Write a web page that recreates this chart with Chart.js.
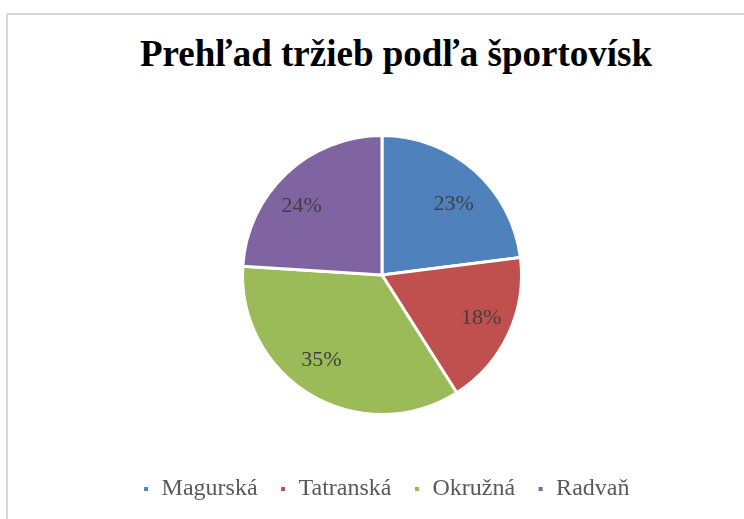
<!DOCTYPE html>
<html>
<head>
<meta charset="utf-8">
<script src="https://cdn.jsdelivr.net/npm/chart.js@4"></script>
<style>
  html, body { margin: 0; padding: 0; background: #fff; }
  body { width: 744px; height: 519px; position: relative; overflow: hidden; }
  .frame {
    position: absolute; left: 6px; top: 13px; width: 800px; height: 600px;
    border-left: 2px solid #d9d9d9; border-top: 2px solid #d9d9d9;
  }
  .title {
    position: absolute; left: 48px; width: 696px; top: 35px;
    text-align: center; font: bold 37px/37px "Liberation Serif", "Times New Roman", serif;
    color: #000; white-space: nowrap;
  }
  #chart { position: absolute; left: 0; top: 0; }
</style>
</head>
<body>
<div class="frame"></div>
<div class="title">Prehľad tržieb podľa športovísk</div>
<canvas id="chart" width="744" height="519"></canvas>
<script>
// podiel tržieb (%) podľa športoviska
const venues = ['Magurská', 'Tatranská', 'Okružná', 'Radvaň'];
const revenueShare = [23, 18, 35, 24];
const sliceColors = ['#4F81BD', '#C0504D', '#9BBB59', '#8064A2'];

const SERIF = '"Liberation Serif", "Times New Roman", serif';

/* percent labels inside the slices (Excel-ish "best fit": a bit wider than tall) */
const pctLabels = {
  id: 'pctLabels',
  afterDatasetsDraw(chart) {
    const { ctx } = chart;
    const meta = chart.getDatasetMeta(0);
    const data = chart.data.datasets[0].data;
    const total = data.reduce((a, b) => a + b, 0);
    ctx.save();
    ctx.font = '22px ' + SERIF;
    ctx.fillStyle = '#404040';
    ctx.textAlign = 'center';
    ctx.textBaseline = 'middle';
    meta.data.forEach((arc, i) => {
      const { x, y, startAngle, endAngle, outerRadius } = arc.getProps(['x', 'y', 'startAngle', 'endAngle', 'outerRadius'], true);
      const mid = (startAngle + endAngle) / 2;
      const pct = Math.round(data[i] / total * 100) + '%';
      const lx = x - 3 + Math.cos(mid) * outerRadius * 0.81;
      const ly = y + 1.5 + Math.sin(mid) * outerRadius * 0.695;
      ctx.fillText(pct, lx, ly);
    });
    ctx.restore();
  }
};

function draw() {
  new Chart(document.getElementById('chart'), {
    type: 'pie',
    data: {
      labels: venues,
      datasets: [{
        data: revenueShare,
        backgroundColor: sliceColors,
        borderColor: '#ffffff',
        borderWidth: 3,
        radius: 139.5,
      }],
    },
    options: {
      responsive: false,
      animation: false,
      events: [],
      layout: { padding: { top: 95, bottom: 8, left: 28, right: 0 } },
      plugins: {
        // empty title on the right only narrows the plot area, so the pie sits a bit left of the legend
        title: { display: true, position: 'right', text: '', font: { size: 8, lineHeight: 1 }, padding: 0 },
        tooltip: { enabled: false },
        legend: {
          position: 'bottom',
          labels: {
            boxWidth: 7,
            boxHeight: 7,
            padding: 22,
            color: '#595959',
            font: { family: SERIF, size: 24 },
          },
        },
      },
    },
    plugins: [pctLabels],
  });
}

// canvas text needs the serif face loaded first
Promise.all([
  document.fonts.load('24px "Liberation Serif"'),
  document.fonts.load('bold 37px "Liberation Serif"'),
]).then(draw, draw);
</script>
</body>
</html>
